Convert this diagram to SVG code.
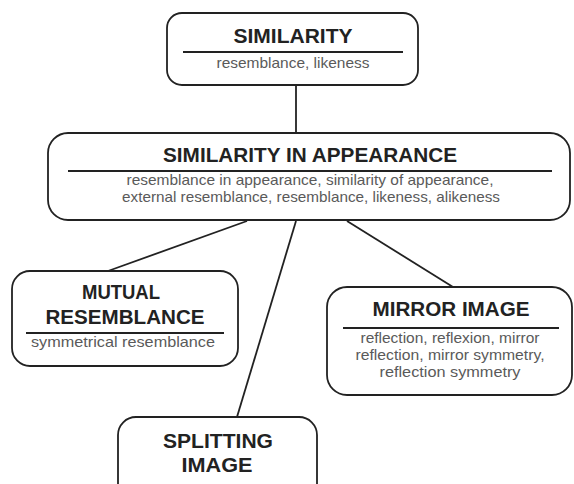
<svg xmlns="http://www.w3.org/2000/svg" width="574" height="484" viewBox="0 0 574 484">
<style>
.box{fill:#fff;stroke:#222;stroke-width:1.8}
.rule{stroke:#222;stroke-width:2}
.edge{stroke:#222;stroke-width:1.8;fill:none}
.t{font-family:"Liberation Sans",Arial,sans-serif;font-weight:bold;font-size:20px;fill:#222;text-anchor:middle}
.s{font-family:"Liberation Sans",Arial,sans-serif;font-size:14.5px;fill:#5a5a5a;text-anchor:middle}
</style>
<rect width="574" height="484" fill="#fff"/>
<g id="connectors">
<line class="edge" x1="296" y1="85" x2="296" y2="133"/>
<line class="edge" x1="247" y1="221" x2="108" y2="271"/>
<line class="edge" x1="296" y1="221" x2="237" y2="417"/>
<line class="edge" x1="347" y1="221" x2="453" y2="287"/>
</g>
<g id="similarity">
<rect class="box" x="167" y="13" width="251" height="72" rx="15"/>
<text class="t" x="293" y="43" textLength="119" lengthAdjust="spacingAndGlyphs">SIMILARITY</text>
<line class="rule" x1="183" y1="52" x2="403" y2="52"/>
<text class="s" x="293" y="68" textLength="153" lengthAdjust="spacingAndGlyphs">resemblance, likeness</text>
</g>
<g id="similarity-in-appearance">
<rect class="box" x="48" y="133" width="522" height="87" rx="20"/>
<text class="t" x="310" y="162" textLength="294" lengthAdjust="spacingAndGlyphs">SIMILARITY IN APPEARANCE</text>
<line class="rule" x1="68" y1="171" x2="552" y2="171"/>
<text class="s" x="310" y="185" textLength="367" lengthAdjust="spacingAndGlyphs">resemblance in appearance, similarity of appearance,</text>
<text class="s" x="311" y="202" textLength="378" lengthAdjust="spacingAndGlyphs">external resemblance, resemblance, likeness, alikeness</text>
</g>
<g id="mutual-resemblance">
<rect class="box" x="12" y="271" width="226" height="95" rx="18"/>
<text class="t" x="121" y="299" textLength="78" lengthAdjust="spacingAndGlyphs">MUTUAL</text>
<text class="t" x="125" y="324" textLength="159" lengthAdjust="spacingAndGlyphs">RESEMBLANCE</text>
<line class="rule" x1="26" y1="333" x2="224" y2="333"/>
<text class="s" x="123" y="347" textLength="184" lengthAdjust="spacingAndGlyphs">symmetrical resemblance</text>
</g>
<g id="mirror-image">
<rect class="box" x="327" y="287" width="245" height="108" rx="20"/>
<text class="t" x="451" y="316" textLength="157" lengthAdjust="spacingAndGlyphs">MIRROR IMAGE</text>
<line class="rule" x1="343" y1="328" x2="559" y2="328"/>
<text class="s" x="450" y="343" textLength="179" lengthAdjust="spacingAndGlyphs">reflection, reflexion, mirror</text>
<text class="s" x="450" y="360" textLength="189" lengthAdjust="spacingAndGlyphs">reflection, mirror symmetry,</text>
<text class="s" x="450" y="377" textLength="141" lengthAdjust="spacingAndGlyphs">reflection symmetry</text>
</g>
<g id="splitting-image">
<rect class="box" x="118" y="417" width="199" height="90" rx="18"/>
<text class="t" x="218" y="448" textLength="110" lengthAdjust="spacingAndGlyphs">SPLITTING</text>
<text class="t" x="217" y="472" textLength="71" lengthAdjust="spacingAndGlyphs">IMAGE</text>
</g>
</svg>
